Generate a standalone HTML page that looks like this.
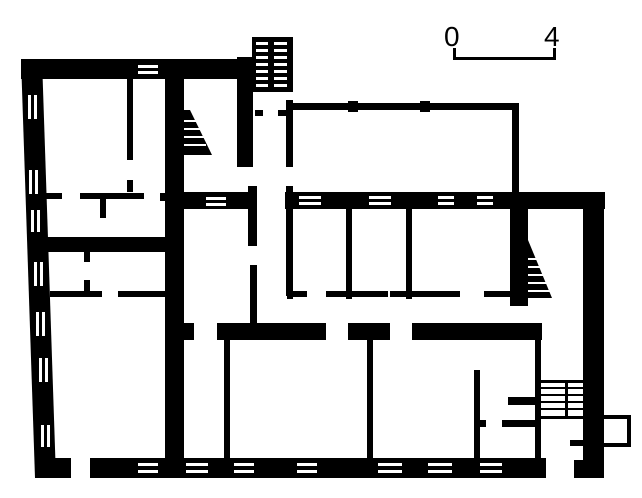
<!DOCTYPE html><html><head><style>html,body{margin:0;padding:0;background:#fff}svg{display:block}</style></head><body>
<svg width="642" height="498" viewBox="0 0 642 498" xmlns="http://www.w3.org/2000/svg">
<g fill="#000">
<polygon points="21,59 42,59 56,478 35,478"/>
<rect x="21" y="59" width="232" height="20"/>
<rect x="165" y="59" width="19" height="170"/>
<rect x="237" y="57" width="16" height="110"/>
<!-- top stair -->
<rect x="252" y="37" width="41" height="55"/>
<rect x="286" y="100" width="7" height="67"/>
<rect x="255" y="110" width="8" height="6"/><rect x="278" y="110" width="12" height="6"/>
<rect x="290" y="103" width="228" height="7"/>
<rect x="348" y="101" width="10" height="11"/><rect x="420" y="101" width="10" height="11"/>
<rect x="512" y="103" width="7" height="93"/>
<rect x="248" y="186" width="9" height="60"/><rect x="250" y="265" width="7" height="60"/>
<rect x="286" y="186" width="7" height="110"/>
<rect x="127" y="78" width="6" height="82"/><rect x="127" y="180" width="6" height="12"/>
<rect x="42" y="193" width="20" height="6"/><rect x="80" y="193" width="64" height="6"/>
<rect x="100" y="196" width="6" height="22"/><rect x="160" y="193" width="10" height="8"/>
<rect x="32" y="237" width="152" height="15"/>
<rect x="84" y="252" width="6" height="10"/><rect x="84" y="280" width="6" height="12"/>
<rect x="50" y="291" width="52" height="6"/><rect x="118" y="291" width="50" height="6"/>
<rect x="165" y="229" width="19" height="235"/>
<rect x="168" y="192" width="89" height="17"/>
<rect x="285" y="192" width="320" height="17"/>
<rect x="583" y="192" width="21" height="286"/>
<rect x="287" y="209" width="6" height="90"/><rect x="346" y="209" width="6" height="90"/><rect x="406" y="209" width="6" height="90"/>
<rect x="287" y="291" width="20" height="6"/><rect x="326" y="291" width="62" height="6"/><rect x="390" y="291" width="70" height="6"/><rect x="484" y="291" width="30" height="6"/>
<rect x="510" y="209" width="18" height="97"/>
<polygon points="528,240 552,298 528,298"/>
<rect x="184" y="323" width="10" height="17"/>
<rect x="217" y="323" width="109" height="17"/>
<rect x="348" y="323" width="42" height="17"/>
<rect x="412" y="323" width="130" height="17"/>
<rect x="224" y="338" width="6" height="122"/><rect x="367" y="338" width="6" height="122"/>
<rect x="474" y="370" width="6" height="90"/><rect x="535" y="338" width="6" height="122"/>
<rect x="508" y="397" width="28" height="8"/><rect x="502" y="420" width="34" height="7"/>
<rect x="480" y="420" width="6" height="7"/>
<rect x="540" y="380" width="44" height="3"/><rect x="540" y="416" width="44" height="3"/>
<rect x="565" y="380" width="3" height="38"/>
<rect x="570" y="440" width="14" height="6"/>
<rect x="600" y="415" width="30" height="4"/><rect x="600" y="443" width="30" height="4"/><rect x="627" y="415" width="4" height="32"/>
<rect x="35" y="458" width="36" height="20"/>
<rect x="90" y="458" width="456" height="20"/>
<rect x="574" y="460" width="30" height="18"/>
<polygon points="184,110 190,110 212,155 184,155"/>
<rect x="453" y="57" width="103" height="3"/><rect x="453" y="48" width="3" height="11"/><rect x="553" y="48" width="3" height="11"/>
</g>
<g fill="#fff">
<rect x="138" y="65" width="20" height="3"/><rect x="138" y="71" width="20" height="3"/>
<rect x="28" y="95" width="3" height="24"/><rect x="34" y="95" width="3" height="24"/>
<rect x="29" y="170" width="3" height="24"/><rect x="35" y="170" width="3" height="24"/>
<rect x="31" y="210" width="3" height="22"/><rect x="37" y="210" width="3" height="22"/>
<rect x="34" y="262" width="3" height="24"/><rect x="40" y="262" width="3" height="24"/>
<rect x="36" y="312" width="3" height="24"/><rect x="42" y="312" width="3" height="24"/>
<rect x="39" y="358" width="3" height="24"/><rect x="45" y="358" width="3" height="24"/>
<rect x="41" y="425" width="3" height="22"/><rect x="47" y="425" width="3" height="22"/>
<rect x="206" y="197" width="20" height="3"/><rect x="206" y="203" width="20" height="3"/>
<rect x="299" y="196" width="22" height="3"/><rect x="299" y="202" width="22" height="3"/>
<rect x="369" y="196" width="22" height="3"/><rect x="369" y="202" width="22" height="3"/>
<rect x="438" y="196" width="16" height="3"/><rect x="438" y="202" width="16" height="3"/>
<rect x="477" y="196" width="16" height="3"/><rect x="477" y="202" width="16" height="3"/>
<rect x="138" y="463" width="20" height="3"/><rect x="138" y="470" width="20" height="3"/>
<rect x="186" y="463" width="22" height="3"/><rect x="186" y="470" width="22" height="3"/>
<rect x="234" y="463" width="20" height="3"/><rect x="234" y="470" width="20" height="3"/>
<rect x="297" y="463" width="20" height="3"/><rect x="297" y="470" width="20" height="3"/>
<rect x="378" y="463" width="24" height="3"/><rect x="378" y="470" width="24" height="3"/>
<rect x="428" y="463" width="24" height="3"/><rect x="428" y="470" width="24" height="3"/>
<rect x="480" y="463" width="22" height="3"/><rect x="480" y="470" width="22" height="3"/>
<rect x="256" y="42" width="12" height="3"/><rect x="256" y="49" width="12" height="3"/><rect x="256" y="56" width="12" height="3"/><rect x="256" y="63" width="12" height="3"/><rect x="256" y="70" width="12" height="3"/><rect x="256" y="77" width="12" height="3"/><rect x="256" y="84" width="12" height="3"/>
<rect x="274" y="42" width="13" height="3"/><rect x="274" y="49" width="13" height="3"/><rect x="274" y="56" width="13" height="3"/><rect x="274" y="63" width="13" height="3"/><rect x="274" y="70" width="13" height="3"/><rect x="274" y="77" width="13" height="3"/><rect x="274" y="84" width="13" height="3"/>
<rect x="184" y="120" width="22" height="2"/><rect x="184" y="128" width="22" height="2"/><rect x="184" y="136" width="22" height="2"/><rect x="184" y="144" width="22" height="2"/>
<rect x="528" y="258" width="14" height="2"/><rect x="528" y="266" width="16" height="2"/><rect x="528" y="274" width="18" height="2"/><rect x="528" y="282" width="20" height="2"/><rect x="528" y="290" width="22" height="2"/>
</g>
<g fill="none" stroke="#000" stroke-width="2">
<path d="M541,388 H583 M541,395 H583 M541,402 H583 M541,409 H583"/>
</g>
<text x="444" y="46" font-family="Liberation Sans, sans-serif" font-size="28" fill="#000">0</text>
<text x="544" y="46" font-family="Liberation Sans, sans-serif" font-size="28" fill="#000">4</text>
</svg>
</body></html>
